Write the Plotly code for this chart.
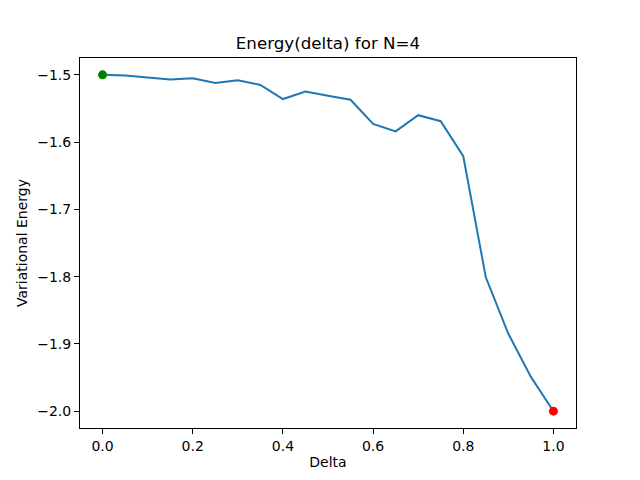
import plotly.graph_objects as go

# delta values and the variational energy
delta = [0.0, 0.05, 0.1, 0.15, 0.2, 0.25, 0.3, 0.35, 0.4, 0.45, 0.5,
         0.55, 0.6, 0.65, 0.7, 0.75, 0.8, 0.85, 0.9, 0.95, 1.0]
energy = [-1.500, -1.501, -1.504, -1.507, -1.505, -1.512, -1.508, -1.515, -1.536, -1.525, -1.531,
          -1.537, -1.573, -1.584, -1.560, -1.569, -1.621, -1.801, -1.885, -1.949, -2.000]

start_point = (0.0, -1.5)
end_point = (1.0, -2.0)

font = dict(family="DejaVu Sans", size=14, color="black")

fig = go.Figure()
fig.add_trace(go.Scatter(x=delta, y=energy, mode='lines',
                         line=dict(color='#1f77b4', width=2)))
fig.add_trace(go.Scatter(x=[start_point[0]], y=[start_point[1]], mode='markers',
                         marker=dict(color='green', size=9)))
fig.add_trace(go.Scatter(x=[end_point[0]], y=[end_point[1]], mode='markers',
                         marker=dict(color='red', size=9)))

axis_style = dict(showline=True, linecolor='black', linewidth=1, mirror=True,
                  ticks='outside', ticklen=5, tickcolor='black', showgrid=False,
                  zeroline=False, tickformat='.1f', tickfont=font)

# page body adds an 8px offset, so the margins are shifted to compensate
fig.update_layout(
    width=640, height=480,
    paper_bgcolor='white', plot_bgcolor='white',
    showlegend=False,
    font=font,
    margin=dict(l=72, r=72, t=50, b=60),
    title=dict(text='Energy(delta) for N=4', x=(72 + 248) / 640, xanchor='center',
               y=1 - 35 / 480, yanchor='middle', font=dict(family="DejaVu Sans", size=16.7)),
    xaxis=dict(axis_style, range=[-0.05, 1.05], dtick=0.2,
               title=dict(text='Delta', font=font, standoff=4)),
    yaxis=dict(axis_style, range=[-2.025, -1.475], dtick=0.1,
               title=dict(text='Variational Energy', font=font, standoff=6)),
)

fig.write_html("out.html")
